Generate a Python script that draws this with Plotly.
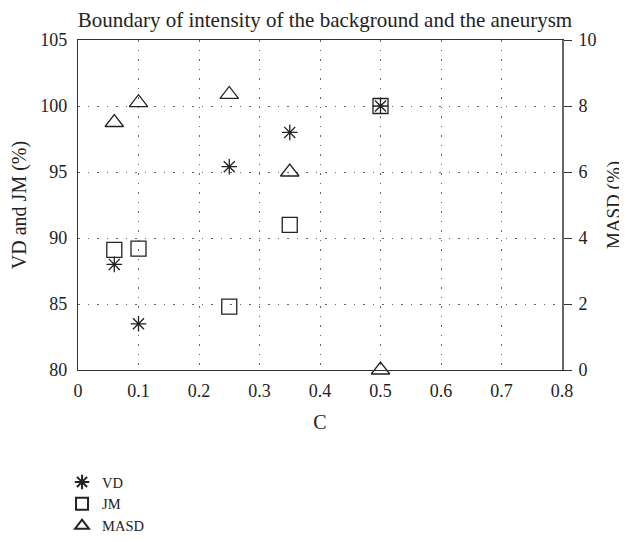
import plotly.graph_objects as go

c_vals = [0.06, 0.1, 0.25, 0.35, 0.5]
vd = [88.0, 83.5, 95.4, 98.0, 100.0]
jm = [89.1, 89.2, 84.8, 91.0, 100.0]
masd = [7.5, 8.1, 8.35, 6.0, 0.0]

x_ticks = [0, 0.1, 0.2, 0.3, 0.4, 0.5, 0.6, 0.7, 0.8]
x_tick_text = ["0", "0.1", "0.2", "0.3", "0.4", "0.5", "0.6", "0.7", "0.8"]

FONT = "Liberation Serif"
INK = "#222"
GRID = "#666"
DOTS = "1.5px,8px"

fig = go.Figure()
fig.add_trace(go.Scatter(x=c_vals, y=vd, mode="markers", name="VD",
                         marker=dict(symbol="asterisk-open", size=13, color=INK,
                                     line=dict(width=1.3, color=INK)),
                         cliponaxis=False))
fig.add_trace(go.Scatter(x=c_vals, y=jm, mode="markers", name="JM",
                         marker=dict(symbol="square-open", size=15, color=INK,
                                     line=dict(width=1.3, color=INK)),
                         cliponaxis=False))
fig.add_trace(go.Scatter(x=c_vals, y=masd, mode="markers", name="MASD", yaxis="y2",
                         marker=dict(symbol="triangle-up-open", size=16, color=INK,
                                     line=dict(width=1.3, color=INK)),
                         cliponaxis=False))

# the page adds an 8px body margin, so the figure is 8px smaller and shifted
fig.update_layout(
    width=619, height=534,
    margin=dict(l=70, r=65, t=32, b=172, autoexpand=False),
    paper_bgcolor="white", plot_bgcolor="white",
    font=dict(family=FONT, size=18, color=INK),
    title=dict(text="Boundary of intensity of the background and the aneurysm",
               x=0.512, xref="container", xanchor="center", y=0.979, yanchor="middle",
               font=dict(family=FONT, size=21, color=INK)),
    xaxis=dict(range=[0, 0.8], tickvals=x_ticks, ticktext=x_tick_text,
               showline=True, linecolor="#333", linewidth=1.3, mirror=True,
               ticks="", ticklabelstandoff=4, automargin=False,
               showgrid=True, gridcolor=GRID, griddash=DOTS, gridwidth=1,
               zeroline=False,
               title=dict(text="C", font=dict(family=FONT, size=20), standoff=15)),
    yaxis=dict(range=[80, 105], dtick=5,
               showline=True, linecolor="#333", linewidth=1.3,
               ticks="", ticklabelstandoff=6, automargin=False,
               showgrid=True, gridcolor=GRID, griddash=DOTS, gridwidth=1,
               zeroline=False,
               title=dict(text="VD and JM (%)", font=dict(family=FONT, size=20), standoff=11)),
    yaxis2=dict(range=[0, 10], dtick=2, overlaying="y", side="right",
                showline=True, linecolor="#666", linewidth=2,
                ticks="outside", ticklen=8, tickcolor="#333", tickwidth=1.3,
                ticklabelstandoff=3, automargin=False,
                showgrid=False, zeroline=False,
                title=dict(text="MASD (%)", font=dict(family=FONT, size=19), standoff=11)),
    legend=dict(x=-0.033, y=-0.291, xanchor="left", yanchor="top",
                font=dict(family=FONT, size=14.5, color=INK), bgcolor="rgba(0,0,0,0)",
                tracegroupgap=0, itemwidth=30, itemsizing="constant"),
    showlegend=True,
)

fig.write_html("out.html")
